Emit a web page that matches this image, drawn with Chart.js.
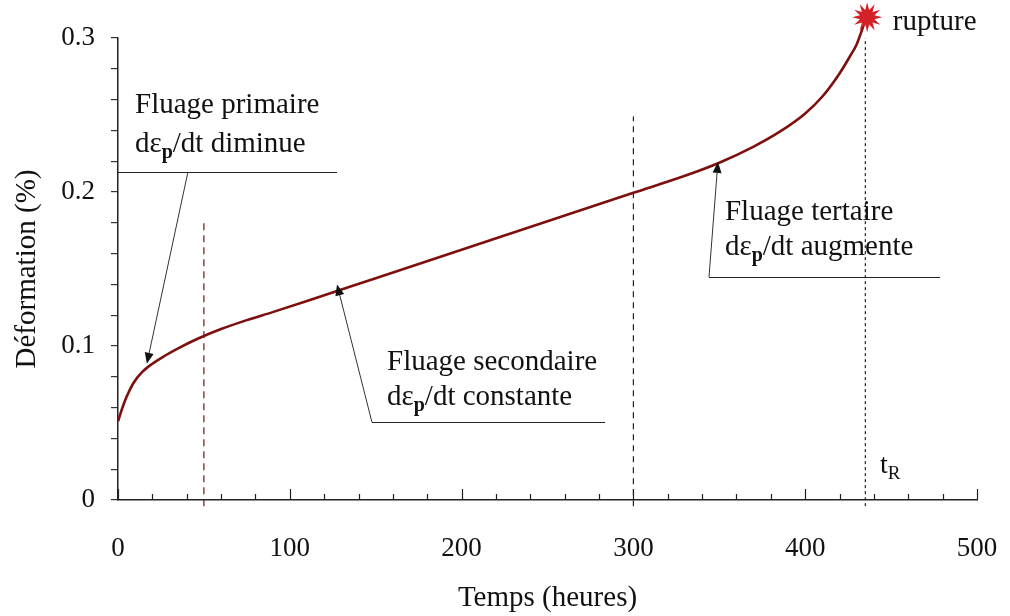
<!DOCTYPE html>
<html>
<head>
<meta charset="utf-8">
<script src="https://cdn.jsdelivr.net/npm/chart.js@4"></script>
<style>
  html, body { margin: 0; padding: 0; background: #fff; overflow: hidden; }
  #wrap { width: 1010px; height: 616px; }
</style>
</head>
<body>
<div id="wrap"><canvas id="creep-chart"></canvas></div>
<script>
// temps (heures) / deformation (%)
const temps = [0, 2, 5, 9, 14, 20, 27, 35, 47, 60, 75, 90, 110, 150, 200, 250, 300, 330, 350, 370, 385, 400, 410, 420, 426, 430, 433, 435.5];
const deformation = [0.051, 0.058, 0.067, 0.076, 0.083, 0.0885, 0.0935, 0.0985, 0.105, 0.111, 0.1168, 0.122, 0.1292, 0.144, 0.1625, 0.181, 0.1995, 0.2105, 0.219, 0.2295, 0.239, 0.251, 0.262, 0.277, 0.288, 0.296, 0.305, 0.3135];

// vertical markers: x position and top of the dashed line
const markerX = [50, 300, 435];
const markerTop = [0.182, 0.249, 0.300];

const xTicks = [0, 100, 200, 300, 400, 500];
const yTicks = [0, 0.1, 0.2, 0.3];

const serif = '"Liberation Serif", "Times New Roman", serif';

const markerStyles = [
  { color: '#6b1515', dash: [7, 5] },
  { color: '#222', dash: [6, 5] },
  { color: '#222', dash: [3, 3] }
];

const markerSets = markerX.map((x, i) => ({
  data: [{ x: x, y: -0.004 }, { x: x, y: markerTop[i] }],
  borderColor: markerStyles[i].color,
  borderDash: markerStyles[i].dash,
  borderWidth: 1.2,
  pointRadius: 0,
  clip: 10
}));

// phase annotations (data coordinates)
const notes = [
  { lines: [['Fluage primaire'], ['dε', 'p', '/dt diminue']], tx: 9.9, ty: [0.2513, 0.226],
    rule: [0, 127.5, 0.213], arrow: [40.7, 0.213, 16.8, 0.0885] },
  { lines: [['Fluage secondaire'], ['dε', 'p', '/dt constante']], tx: 156.6, ty: [0.0844, 0.0617],
    rule: [147.8, 283.5, 0.0506], arrow: [147.8, 0.0506, 127.5, 0.140] },
  { lines: [['Fluage tertaire'], ['dε', 'p', '/dt augmente']], tx: 353.3, ty: [0.1818, 0.159],
    rule: [344, 478.5, 0.1448], arrow: [344, 0.1448, 349.2, 0.2195] }
];

function drawParts(ctx, parts, x, y, size) {
  parts.forEach((p, i) => {
    if (i === 1) {
      ctx.font = 'bold ' + Math.round(size * 0.68) + 'px ' + serif;
      ctx.fillText(p, x, y + size * 0.2);
    } else {
      ctx.font = size + 'px ' + serif;
      ctx.fillText(p, x, y);
    }
    x += ctx.measureText(p).width;
  });
}

function arrow(ctx, x1, y1, x2, y2) {
  const a = Math.atan2(y2 - y1, x2 - x1);
  const len = 11, w = 4.5;
  ctx.beginPath();
  ctx.moveTo(x1, y1);
  ctx.lineTo(x2 - Math.cos(a) * len, y2 - Math.sin(a) * len);
  ctx.stroke();
  ctx.beginPath();
  ctx.moveTo(x2, y2);
  ctx.lineTo(x2 - Math.cos(a) * len - Math.sin(a) * w, y2 - Math.sin(a) * len + Math.cos(a) * w);
  ctx.lineTo(x2 - Math.cos(a) * len + Math.sin(a) * w, y2 - Math.sin(a) * len - Math.cos(a) * w);
  ctx.closePath();
  ctx.fill();
}

const annotations = {
  id: 'annotations',
  afterDraw(chart) {
    const ctx = chart.ctx;
    const xs = chart.scales.x, ys = chart.scales.y;
    const bottom = chart.chartArea.bottom;
    ctx.save();

    // inward x tick marks every 20 h
    ctx.strokeStyle = '#222';
    ctx.lineWidth = 1.2;
    for (let v = 0; v <= 500; v += 20) {
      const px = Math.round(xs.getPixelForValue(v)) + 0.5;
      const len = v % 100 === 0 ? 11 : 6;
      ctx.beginPath();
      ctx.moveTo(px, bottom);
      ctx.lineTo(px, bottom - len);
      ctx.stroke();
    }

    // phase labels, rules and arrows
    ctx.fillStyle = '#111';
    ctx.textBaseline = 'alphabetic';
    notes.forEach(n => {
      n.lines.forEach((parts, i) => {
        drawParts(ctx, parts, xs.getPixelForValue(n.tx), ys.getPixelForValue(n.ty[i]), 29);
      });
      ctx.strokeStyle = '#222';
      ctx.lineWidth = 1;
      const ry = Math.round(ys.getPixelForValue(n.rule[2])) + 0.5;
      ctx.beginPath();
      ctx.moveTo(xs.getPixelForValue(n.rule[0]), ry);
      ctx.lineTo(xs.getPixelForValue(n.rule[1]), ry);
      ctx.stroke();
      ctx.strokeStyle = '#333';
      ctx.fillStyle = '#111';
      arrow(ctx, xs.getPixelForValue(n.arrow[0]), ys.getPixelForValue(n.arrow[1]),
        xs.getPixelForValue(n.arrow[2]), ys.getPixelForValue(n.arrow[3]));
    });

    // rupture star on the last point
    const meta = chart.getDatasetMeta(0);
    const last = meta.data[meta.data.length - 1];
    const cx = last.x + 1, cy = last.y;
    ctx.fillStyle = '#d42027';
    ctx.beginPath();
    const spikes = 12;
    for (let i = 0; i < spikes * 2; i++) {
      const r = i % 2 === 0 ? 15 : 7.5;
      const a = Math.PI * i / spikes - Math.PI / 2;
      const px = cx + Math.cos(a) * r, py = cy + Math.sin(a) * r;
      if (i === 0) ctx.moveTo(px, py); else ctx.lineTo(px, py);
    }
    ctx.closePath();
    ctx.fill();

    ctx.fillStyle = '#111';
    ctx.font = '29px ' + serif;
    ctx.fillText('rupture', xs.getPixelForValue(451), ys.getPixelForValue(0.305));

    // t_R
    const tx = xs.getPixelForValue(443.5), ty = ys.getPixelForValue(0.0175);
    ctx.font = '28px ' + serif;
    ctx.fillText('t', tx, ty);
    const tw = ctx.measureText('t').width;
    ctx.font = '19px ' + serif;
    ctx.fillText('R', tx + tw, ty + 6);

    ctx.restore();
  }
};

const ctx = document.getElementById('creep-chart').getContext('2d');
const creepChart = new Chart(ctx, {
  type: 'line',
  data: {
    datasets: [{
      data: temps.map((t, i) => ({ x: t, y: deformation[i] })),
      borderColor: '#7d0f0f',
      borderWidth: 2.6,
      pointRadius: 0,
      clip: false,
      cubicInterpolationMode: 'monotone'
    }, ...markerSets]
  },
  options: {
    responsive: true,
    maintainAspectRatio: false,
    animation: false,
    events: [],
    layout: { padding: { top: 38, right: 33, left: 0, bottom: 0 } },
    plugins: {
      legend: { display: false },
      tooltip: { enabled: false }
    },
    scales: {
      x: {
        type: 'linear',
        min: 0,
        max: 500,
        afterBuildTicks: s => { s.ticks = xTicks.map(v => ({ value: v })); },
        afterFit: s => { s.height = 116; s.paddingLeft = 0; s.paddingRight = 0; },
        grid: { display: false, drawTicks: false },
        border: { display: true, color: '#222', width: 1.5 },
        ticks: {
          color: '#111',
          padding: 33,
          font: { family: serif, size: 27 },
          maxRotation: 0
        },
        title: {
          display: true,
          text: 'Temps (heures)',
          color: '#111',
          font: { family: serif, size: 29, lineHeight: 1.2 },
          padding: { top: 0, bottom: 0 }
        }
      },
      y: {
        min: 0,
        max: 0.3,
        afterBuildTicks: s => {
          const t = [];
          for (let i = 0; i <= 15; i++) t.push({ value: i * 0.02 });
          s.ticks = t;
        },
        afterFit: s => { s.width = 118; },
        grid: { drawOnChartArea: false, drawTicks: true, tickLength: 7, color: '#333', lineWidth: 1.2 },
        border: { display: true, color: '#222', width: 1.5 },
        ticks: {
          color: '#111',
          padding: 16,
          autoSkip: false,
          font: { family: serif, size: 27 },
          callback: v => {
            const hit = yTicks.find(t => Math.abs(t - v) < 1e-6);
            if (hit === undefined) return '';
            return hit === 0 ? '0' : hit.toFixed(1);
          }
        },
        title: {
          display: true,
          text: 'Déformation (%)',
          color: '#111',
          font: { family: serif, size: 29, lineHeight: 1.2 },
          padding: { top: 10, bottom: 10 }
        }
      }
    }
  },
  plugins: [annotations]
});
</script>
</body>
</html>
